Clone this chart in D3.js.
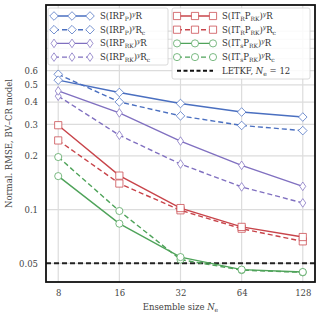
<!DOCTYPE html>
<html>
<head>
<meta charset="utf-8">
<script src="https://cdn.jsdelivr.net/npm/d3@7"></script>
<style>
body { margin: 0; background: #fff; }
text { font-family: "DejaVu Serif", serif; }
</style>
</head>
<body>
<div id="chart"></div>
<script>
// ensemble sizes
var ens_sizes = [8, 16, 32, 64, 128];
var y_ticks = [0.05, 0.1, 0.2, 0.3, 0.4, 0.5, 0.6];
var letkf_value = 0.05;

var irpp_r = [0.531, 0.453, 0.393, 0.352, 0.330];
var irpp_rc = [0.573, 0.401, 0.335, 0.296, 0.277];
var irprk_r = [0.462, 0.348, 0.242, 0.177, 0.135];
var irprk_rc = [0.432, 0.261, 0.180, 0.134, 0.109];
var itr_r = [0.297, 0.155, 0.102, 0.080, 0.0702];
var itr_rc = [0.244, 0.140, 0.0991, 0.0782, 0.0664];
var its_r = [0.154, 0.0834, 0.0542, 0.0461, 0.0447];
var its_rc = [0.197, 0.0982, 0.0525, 0.0458, 0.0445];

var blue = "#4a6fc0", purple = "#8070c0", red = "#c8444a", green = "#4fa35a";

// label pieces: [text, style] where style is "n" normal, "sub", "sup"
var series = [
    {values: irpp_r, color: blue, marker: "diamond", dash: null,
     label: [["S(IRP", "n"], ["P", "sub"], [")", "n"], ["y", "sup"], ["R", "n"]]},
    {values: irpp_rc, color: blue, marker: "diamond", dash: "5,3",
     label: [["S(IRP", "n"], ["P", "sub"], [")", "n"], ["y", "sup"], ["R", "n"], ["c", "sub"]]},
    {values: irprk_r, color: purple, marker: "thindiamond", dash: null,
     label: [["S(IRP", "n"], ["RK", "sub"], [")", "n"], ["y", "sup"], ["R", "n"]]},
    {values: irprk_rc, color: purple, marker: "thindiamond", dash: "5,3",
     label: [["S(IRP", "n"], ["RK", "sub"], [")", "n"], ["y", "sup"], ["R", "n"], ["c", "sub"]]},
    {values: itr_r, color: red, marker: "square", dash: null,
     label: [["S(IT", "n"], ["R", "sub"], ["P", "n"], ["RK", "sub"], [")", "n"], ["y", "sup"], ["R", "n"]]},
    {values: itr_rc, color: red, marker: "square", dash: "5,3",
     label: [["S(IT", "n"], ["R", "sub"], ["P", "n"], ["RK", "sub"], [")", "n"], ["y", "sup"], ["R", "n"], ["c", "sub"]]},
    {values: its_r, color: green, marker: "circle", dash: null,
     label: [["S(IT", "n"], ["s", "sub"], ["P", "n"], ["RK", "sub"], [")", "n"], ["y", "sup"], ["R", "n"]]},
    {values: its_rc, color: green, marker: "circle", dash: "5,3",
     label: [["S(IT", "n"], ["s", "sub"], ["P", "n"], ["RK", "sub"], [")", "n"], ["y", "sup"], ["R", "n"], ["c", "sub"]]}
];

var margin = {top: 5, right: 5, bottom: 38, left: 46},
    width = 320 - margin.left - margin.right,
    height = 320 - margin.top - margin.bottom;

var svg = d3.select("#chart").append("svg")
    .attr("width", 320)
    .attr("height", 320);

var g = svg.append("g")
    .attr("transform", "translate(" + margin.left + "," + margin.top + ")");

var x = d3.scaleLog().base(2)
    .domain([8 / Math.pow(2, 0.2), 128 * Math.pow(2, 0.2)])
    .range([0, width]);

var y = d3.scaleLog()
    .domain([0.0393, 1.40])
    .range([height, 0]);

// grid
g.append("g").selectAll("line.vgrid")
    .data(ens_sizes)
    .enter().append("line")
    .attr("x1", function(d) { return x(d); })
    .attr("x2", function(d) { return x(d); })
    .attr("y1", 0).attr("y2", height)
    .attr("stroke", "#dcdcdc").attr("stroke-width", 1.2);

g.append("g").selectAll("line.hgrid")
    .data(y_ticks.concat([0.7, 0.8, 0.9, 1.0]))
    .enter().append("line")
    .attr("x1", 0).attr("x2", width)
    .attr("y1", function(d) { return y(d); })
    .attr("y2", function(d) { return y(d); })
    .attr("stroke", "#dcdcdc").attr("stroke-width", 1.2);

// axes (labels only)
var xAxis = d3.axisBottom(x).tickValues(ens_sizes).tickFormat(d3.format("d")).tickSize(0).tickPadding(8);
var yAxis = d3.axisLeft(y).tickValues(y_ticks).tickFormat(function(d) { return String(d); }).tickSize(0).tickPadding(8);

var gx = g.append("g").attr("transform", "translate(0," + height + ")").call(xAxis);
var gy = g.append("g").call(yAxis);
[gx, gy].forEach(function(a) {
    a.select(".domain").remove();
    a.selectAll("text")
        .style("font-family", "DejaVu Serif, serif")
        .style("font-size", "8.5px")
        .attr("fill", "#444");
});

// LETKF reference
g.append("line")
    .attr("x1", 0).attr("x2", width)
    .attr("y1", y(letkf_value)).attr("y2", y(letkf_value))
    .attr("stroke", "#222").attr("stroke-width", 2)
    .attr("stroke-dasharray", "5,3");

function marker_path(type) {
    if (type === "diamond") return "M0,-4.3L4.3,0L0,4.3L-4.3,0Z";
    if (type === "thindiamond") return "M0,-4.3L3,0L0,4.3L-3,0Z";
    if (type === "square") return "M-3.6,-3.6H3.6V3.6H-3.6Z";
    return d3.symbol().type(d3.symbolCircle).size(40)();
}

var line = d3.line()
    .x(function(d, i) { return x(ens_sizes[i]); })
    .y(function(d) { return y(d); });

// draw series in reverse so first series on top
series.slice().reverse().forEach(function(s) {
    g.append("path")
        .datum(s.values)
        .attr("d", line)
        .attr("fill", "none")
        .attr("stroke", s.color)
        .attr("stroke-width", 1.4)
        .attr("stroke-dasharray", s.dash);

    g.append("g").selectAll("path")
        .data(s.values)
        .enter().append("path")
        .attr("d", marker_path(s.marker))
        .attr("transform", function(d, i) { return "translate(" + x(ens_sizes[i]) + "," + y(d) + ")"; })
        .attr("fill", "#fff")
        .attr("stroke", s.color)
        .attr("stroke-opacity", 0.75)
        .attr("stroke-width", 1);
});

// frame
g.append("rect")
    .attr("width", width).attr("height", height)
    .attr("fill", "none").attr("stroke", "#111").attr("stroke-width", 1.8);

// axis labels
svg.append("text")
    .attr("x", margin.left + width / 2)
    .attr("y", 310)
    .attr("text-anchor", "middle")
    .style("font-size", "8.5px")
    .attr("fill", "#444")
    .call(function(t) {
        t.append("tspan").text("Ensemble size ");
        t.append("tspan").attr("font-style", "italic").text("N");
        t.append("tspan").attr("font-size", "6px").attr("dy", 2).text("e");
    });

svg.append("text")
    .attr("transform", "translate(12," + (margin.top + height / 2) + ") rotate(-90)")
    .attr("text-anchor", "middle")
    .style("font-size", "8.5px")
    .attr("fill", "#444")
    .text("Normal. RMSE, BV\u2013CR model");

// legends
function add_label(t, pieces) {
    var shift = 0;
    pieces.forEach(function(p) {
        var ts = t.append("tspan").text(p[0]);
        var target = 0;
        if (p[1] === "sub") { target = 2; ts.attr("font-size", "6px"); }
        if (p[1] === "sup") { target = -3.5; ts.attr("font-size", "6px").attr("font-style", "italic"); }
        ts.attr("dy", target - shift);
        shift = target;
    });
}

function draw_legend(items, box, line_x0, line_x1, text_x) {
    svg.append("rect")
        .attr("x", box.x).attr("y", box.y)
        .attr("width", box.w).attr("height", box.h)
        .attr("rx", 2)
        .attr("fill", "#fff").attr("fill-opacity", 0.85)
        .attr("stroke", "#d0d0d0").attr("stroke-width", 0.8);

    items.forEach(function(s, i) {
        var yy = box.y + 8 + i * 13.7;
        svg.append("line")
            .attr("x1", line_x0).attr("x2", line_x1)
            .attr("y1", yy).attr("y2", yy)
            .attr("stroke", s.color)
            .attr("stroke-width", s.marker ? 1.4 : 2)
            .attr("stroke-dasharray", s.dash);
        if (s.marker) {
            [line_x0, (line_x0 + line_x1) / 2, line_x1].forEach(function(mx) {
                svg.append("path")
                    .attr("d", marker_path(s.marker))
                    .attr("transform", "translate(" + mx + "," + yy + ")")
                    .attr("fill", "#fff")
                    .attr("stroke", s.color)
                    .attr("stroke-opacity", 0.75)
                    .attr("stroke-width", 1);
            });
        }
        var t = svg.append("text")
            .attr("x", text_x).attr("y", yy + 3)
            .style("font-size", "8.5px")
            .attr("fill", "#333");
        add_label(t, s.label);
    });
}

draw_legend(series.slice(0, 4), {x: 48, y: 8, w: 120, h: 57}, 54, 90, 100);

var letkf_item = {color: "#111", marker: null, dash: "4,2.5",
    label: [["LETKF, ", "n"]]};
draw_legend(series.slice(4).concat([letkf_item]), {x: 172, y: 8, w: 138, h: 71}, 177, 213, 222);

// append N_e = 12 to LETKF label
svg.selectAll("text").filter(function() { return this.textContent === "LETKF, "; })
    .call(function(t) {
        t.append("tspan").attr("font-style", "italic").text("N");
        t.append("tspan").attr("font-size", "6px").attr("dy", 2).text("e");
        t.append("tspan").attr("dy", -2).text(" = 12");
    });
</script>
</body>
</html>
